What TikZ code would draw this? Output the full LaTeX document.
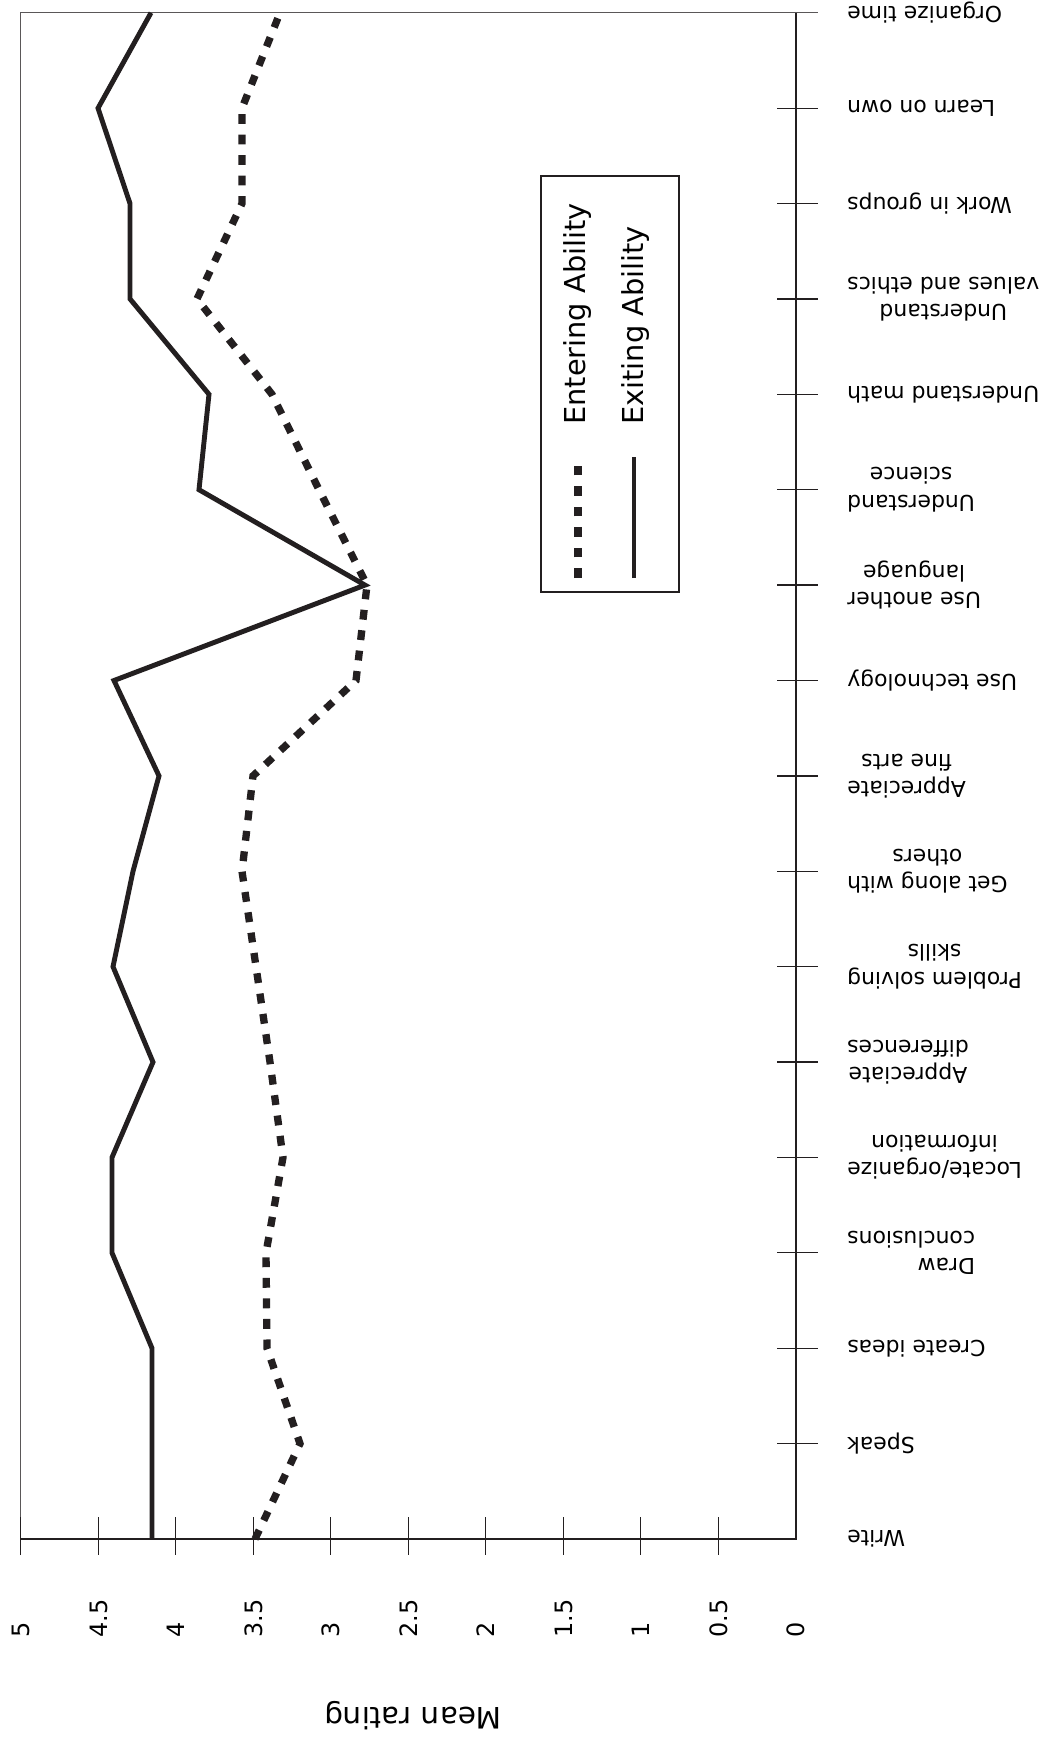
\documentclass[tikz,border=0pt]{standalone}
\usepackage{fontspec}
\setmainfont{DejaVu Sans}
\definecolor{ink}{RGB}{35,31,32}
\tikzset{
	cat/.style={rotate=180, anchor=east, inner sep=0pt, align=center, font=\fontsize{15.6}{19.4}\selectfont},
	num/.style={rotate=90, anchor=west, inner sep=0pt, font=\fontsize{17}{20}\selectfont},
	legtext/.style={rotate=90, anchor=base west, inner sep=0pt, font=\fontsize{20.5}{24}\selectfont},
	entering/.style={ink, line width=5.2pt, dash pattern=on 7pt off 7.6pt},
	exiting/.style={ink, line width=3.5pt},
	tick/.style={ink, line width=0.9pt},
}
\begin{document}
\begin{tikzpicture}[x=0.025cm, y=-0.025cm]
	\useasboundingbox (0,0) rectangle (1040,1760);
	
	% Moldura e eixos
	\draw[ink!75, line width=0.9pt] (20.7,1555) -- (20.7,12.7) -- (818,12.7);		% borda
	\draw[ink, line width=2pt] (20.7,1539) -- (796,1539) -- (796,12.7);			% eixos
	\foreach \k in {0,...,9}
		\draw[tick] (20.7+77.5*\k,1517) -- (20.7+77.5*\k,1555);
	\foreach \i in {1,...,15}
		\draw[tick] (777,1539-95.39*\i) -- (818,1539-95.39*\i);
	
	% Escala
	\foreach \v [count=\n] in {0,0.5,1,1.5,2,2.5,3,3.5,4,4.5,5}
		\node[num] (v\n) at (796-155*\v,1638) {\v};
	\node[rotate=180, font=\fontsize{21}{24}\selectfont] (title) at (413,1716) {Mean rating};
	
	% Categorias
	\node[cat] (c1) at (847,1539) {Write};
	\node[cat] (c2) at (847,1443.6) {Speak};
	\node[cat] (c3) at (847,1348.2) {Create ideas};
	\node[cat, align=left] (c4) at (847,1252.8) {Draw\\conclusions};
	\node[cat] (c5) at (847,1157.4) {Locate/organize\\information};
	\node[cat] (c6) at (847,1062.1) {Appreciate\\differences};
	\node[cat] (c7) at (847,966.7) {Problem solving\\skills};
	\node[cat] (c8) at (847,871.3) {Get along with\\others};
	\node[cat] (c9) at (847,775.9) {Appreciate\\fine arts};
	\node[cat] (c10) at (847,680.5) {Use technology};
	\node[cat] (c11) at (847,585.1) {Use another\\language};
	\node[cat] (c12) at (847,489.7) {Understand\\science};
	\node[cat] (c13) at (847,394.3) {Understand math};
	\node[cat] (c14) at (847,298.9) {Understand\\values and ethics};
	\node[cat] (c15) at (847,203.5) {Work in groups};
	\node[cat] (c16) at (847,108.2) {Learn on own};
	\node[cat] (c17) at (847,12.8) {Organize time};
	
	% Curvas
	\draw[entering] (255,1539) -- (300,1443.6) -- (267,1348.2) -- (266,1252.8) -- (283,1157.4) -- (270,1062.1) -- (256,966.7) -- (242,871.3) -- (253,775.9) -- (356,680.5) -- (367,585.1) -- (319,489.7) -- (272,394.3) -- (197,298.9) -- (242,203.5) -- (242,108.2) -- (280,12.8);
	\draw[exiting] (152,1539) -- (152,1443.6) -- (152,1348.2) -- (112,1252.8) -- (112,1157.4) -- (153,1062.1) -- (113,966.7) -- (133,871.3) -- (159,775.9) -- (114,680.5) -- (365,585.1) -- (199,489.7) -- (209,394.3) -- (130,298.9) -- (130,203.5) -- (98,108.2) -- (151,12.8);
	
	% Legenda
	\draw[ink, line width=0.8pt] (541,176) rectangle (679,592);
	\coordinate (d1) at (578,578);
	\coordinate (d2) at (578,460);
	\coordinate (s1) at (634,578);
	\coordinate (s2) at (634,457);
	\draw[entering] (d1) -- (d2);
	\draw[exiting, line width=2.8pt] (s1) -- (s2);
	\node[legtext] (e1) at (585,425) {Entering Ability};
	\node[legtext] (e2) at (643,425) {Exiting Ability};
\end{tikzpicture}
\end{document}
